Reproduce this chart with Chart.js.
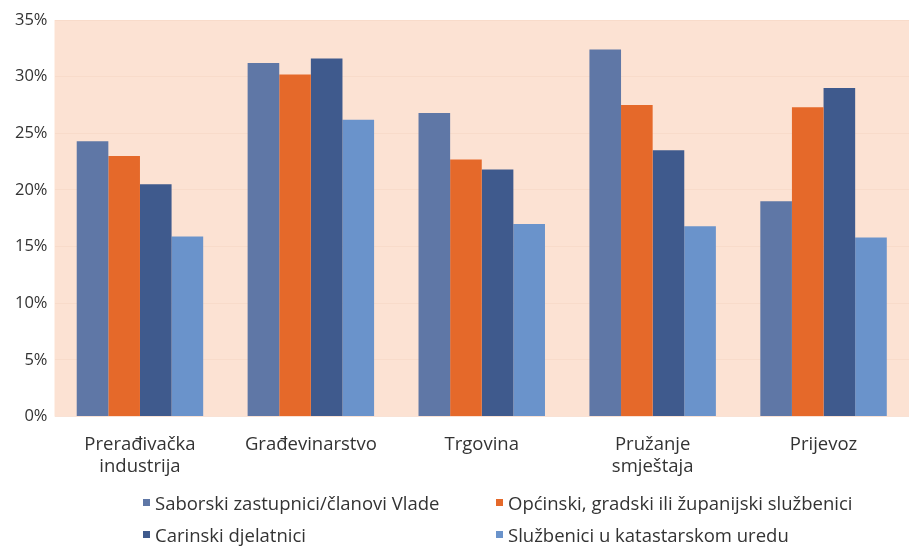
<!DOCTYPE html>
<html>
<head>
<meta charset="utf-8">
<script src="https://cdn.jsdelivr.net/npm/chart.js@4.4.1/dist/chart.umd.min.js"></script>
<style>
  body { margin: 0; background: #fff; font-family: "Open Sans", sans-serif; }
  #wrap { position: relative; width: 909px; height: 551px; }
  #legend { position: absolute; left: 143px; top: 490px; display: grid; grid-template-columns: 353px auto; row-gap: 7px; font-size: 18.5px; color: #333; white-space: nowrap; }
  .item { display: flex; align-items: center; line-height: 25px; }
  .box { width: 7px; height: 7px; margin-right: 5px; flex: none; }
</style>
</head>
<body>
<div id="wrap">
  <canvas id="chart1" width="909" height="551"></canvas>
  <div id="legend"></div>
</div>
<script>
var categories = [["Prerađivačka", "industrija"], "Građevinarstvo", "Trgovina", ["Pružanje", "smještaja"], "Prijevoz"];
var seriesNames = ["Saborski zastupnici/članovi Vlade", "Općinski, gradski ili županijski službenici", "Carinski djelatnici", "Službenici u katastarskom uredu"];
var saborski = [24.3, 31.2, 26.8, 32.4, 19.0];
var opcinski = [23.0, 30.2, 22.7, 27.5, 27.3];
var carinski = [20.5, 31.6, 21.8, 23.5, 29.0];
var katastar = [15.9, 26.2, 17.0, 16.8, 15.8];
var colors = ["#5F77A6", "#E5692A", "#3F5A8D", "#6A93CB"];

var plotBackground = {
  id: 'plotBackground',
  beforeDraw: function(chart) {
    var a = chart.chartArea;
    var ctx = chart.ctx;
    ctx.save();
    ctx.fillStyle = '#FCE2D3';
    ctx.fillRect(a.left, a.top, a.right - a.left, a.bottom - a.top);
    ctx.restore();
  }
};

var allSeries = [saborski, opcinski, carinski, katastar];
var datasets = allSeries.map(function(vals, i) {
  return {
    label: seriesNames[i],
    data: vals,
    backgroundColor: colors[i],
    categoryPercentage: 0.74,
    barPercentage: 1.0
  };
});

new Chart(document.getElementById('chart1'), {
  type: 'bar',
  data: { labels: categories, datasets: datasets },
  plugins: [plotBackground],
  options: {
    responsive: false,
    animation: false,
    layout: { padding: { top: 20, right: 0, bottom: 64, left: 8 } },
    plugins: { legend: { display: false }, tooltip: { enabled: false } },
    scales: {
      x: {
        grid: { display: false },
        border: { display: false },
        ticks: { color: '#333', font: { family: 'Open Sans', size: 18.5, lineHeight: 1.2 }, padding: 9 }
      },
      y: {
        min: 0, max: 35,
        grid: { color: 'rgba(240,205,185,0.35)', drawTicks: false },
        border: { display: false },
        ticks: {
          stepSize: 5,
          color: '#333',
          font: { family: 'Open Sans', size: 16.5 },
          padding: 7,
          callback: function(v) { return v + '%'; }
        }
      }
    }
  }
});

var legend = document.getElementById('legend');
seriesNames.forEach(function(name, i) {
  var item = document.createElement('div');
  item.className = 'item';
  item.innerHTML = '<span class="box" style="background:' + colors[i] + '"></span>' + name;
  legend.appendChild(item);
});
</script>
</body>
</html>
